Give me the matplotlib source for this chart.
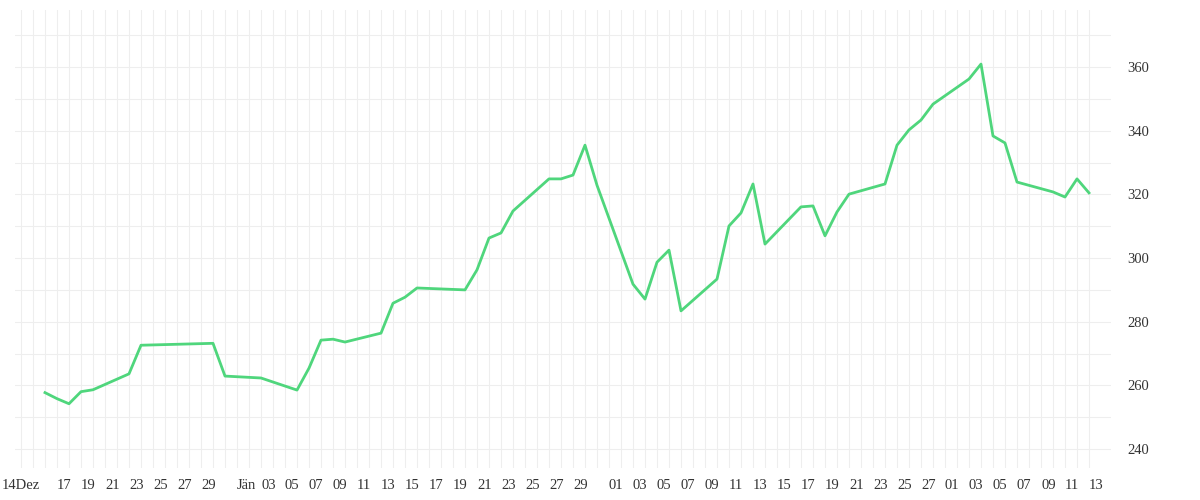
import matplotlib
matplotlib.use("Agg")
import matplotlib.pyplot as plt
import numpy as np

# days since 14 Dec 2022
days = [2,3,4,5,6,9,10,16,17,20,23,24,25,26,27,30,31,32,33,37,38,39,40,41,44,45,46,47,48,51,52,53,54,55,58,59,60,61,62,65,66,67,68,69,72,73,74,75,76,79,80,81,82,83,86,87,88,89]
values = [257.7,255.8,254.2,258.0,258.6,263.6,272.6,273.2,262.9,262.3,258.5,265.4,274.2,274.5,273.6,276.4,285.8,287.7,290.6,290.0,296.3,306.3,307.9,314.8,324.9,324.9,326.1,335.5,322.9,291.8,287.1,298.7,302.5,283.4,293.4,310.1,314.2,323.3,304.4,316.1,316.4,307.0,314.5,320.1,323.3,335.5,340.3,343.4,348.4,356.3,361.0,338.4,336.2,323.9,320.8,319.2,324.9,320.5]

tick_days = list(range(0, 90))
tick_labels = {0:"14Dez",3:"17",5:"19",7:"21",9:"23",11:"25",13:"27",15:"29",18:"Jän",20:"03",22:"05",24:"07",26:"09",28:"11",30:"13",32:"15",34:"17",36:"19",38:"21",40:"23",42:"25",44:"27",46:"29",49:"01",51:"03",53:"05",55:"07",57:"09",59:"11",61:"13",63:"15",65:"17",67:"19",69:"21",71:"23",73:"25",75:"27",77:"01",79:"03",81:"05",83:"07",85:"09",87:"11",89:"13"}

plt.rcParams['font.family'] = ['Liberation Serif', 'DejaVu Serif']
fig = plt.figure(figsize=(12, 5), dpi=100)
ax = fig.add_axes([0.0125, 0.064, 0.913, 0.916])
ax.plot(days, values, color="#4fd67c", lw=2.0, solid_joinstyle="round")
ax.set_xlim(-0.5, 90.8)
ax.set_ylim(234, 378)
ax.set_xticks(tick_days, minor=True)
ax.set_xticks(list(tick_labels.keys()))
ax.set_xticklabels(list(tick_labels.values()), ha="left", fontsize=10.5, color="#333333")
ax.get_xticklabels()[0].set_ha("center")
ax.set_yticks([240,260,280,300,320,340,360])
ax.set_yticks(np.arange(240, 380, 10), minor=True)
ax.yaxis.tick_right()
ax.tick_params(axis="y", which="both", labelsize=10.5, colors="#333333", length=0, pad=12)
ax.tick_params(axis="x", which="both", length=0, pad=8)
ax.grid(which="both", color="#eeeeee", lw=0.8)
for s in ax.spines.values():
    s.set_visible(False)
fig.savefig("out.png")
